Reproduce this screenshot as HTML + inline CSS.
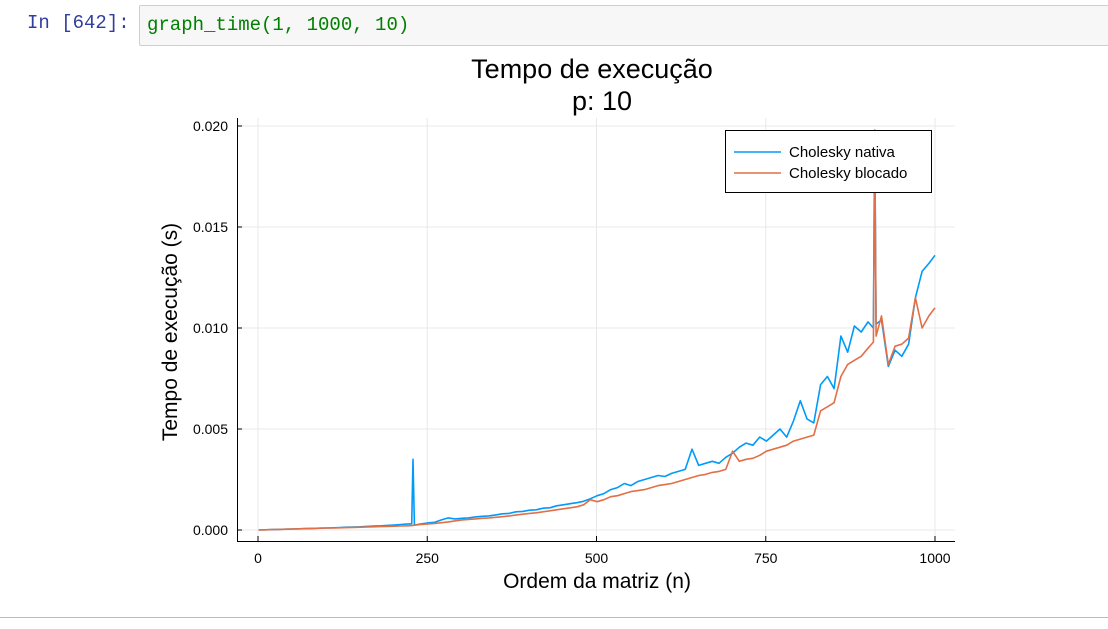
<!DOCTYPE html>
<html><head><meta charset="utf-8"><style>
body{margin:0;width:1108px;height:629px;background:#fff;overflow:hidden;position:relative;font-family:"Liberation Sans",sans-serif}
#prompt{position:absolute;left:27px;top:12px;font:19px "Liberation Mono",monospace;color:#303F9F}
#cell{position:absolute;left:139px;top:5px;width:975px;height:39px;background:#f7f7f7;border:1px solid #cfcfcf;border-radius:2px}
#code{position:absolute;left:7px;top:8px;font:19px "Liberation Mono",monospace;color:#008000}
#sep{position:absolute;left:0;top:617px;width:1108px;height:1px;background:#bbb}
</style></head><body>
<div id="prompt">In [642]:</div>
<div id="cell"><div id="code">graph_time(1, 1000, 10)</div></div>
<div id="sep"></div>
<svg id="chart" width="1108" height="629" style="position:absolute;left:0;top:0" font-family="Liberation Sans, sans-serif"></svg>
<script>
const nVals=[1,11,21,31,41,51,61,71,81,91,101,111,121,131,141,151,161,171,181,191,201,211,221,227,229,231,
241,251,261,271,281,291,301,311,321,331,341,351,361,371,381,391,401,411,421,431,441,451,461,471,481,491,501,511,521,531,541,551,561,571,581,591,601,611,621,631,641,651,661,671,681,691,701,711,721,731,741,751,761,771,781,791,801,811,821,831,841,851,861,871,881,891,901,
909,911,913,921,931,941,951,961,971,981,991,1000];
const nativa=[0,0.01,0.02,0.03,0.04,0.05,0.06,0.07,0.08,0.09,0.1,0.11,0.12,0.14,0.15,0.16,0.18,0.2,0.21,0.23,0.25,0.27,0.3,0.3,3.5,0.25,
0.3,0.35,0.38,0.5,0.6,0.55,0.58,0.6,0.65,0.68,0.7,0.75,0.8,0.82,0.9,0.92,0.98,1.0,1.08,1.1,1.2,1.25,1.3,1.35,1.42,1.55,1.7,1.8,2.0,2.1,2.3,2.2,2.4,2.5,2.6,2.7,2.65,2.8,2.9,3.0,4.0,3.2,3.3,3.4,3.3,3.6,3.8,4.1,4.3,4.2,4.6,4.4,4.7,5.0,4.6,5.4,6.4,5.5,5.3,7.2,7.6,7.0,9.6,8.8,10.1,9.8,10.3,
10.0,19.8,10.2,10.4,8.1,8.9,8.6,9.2,11.5,12.8,13.2,13.6];
const blocado=[0,0.01,0.02,0.03,0.04,0.05,0.06,0.07,0.08,0.09,0.1,0.1,0.11,0.12,0.13,0.14,0.15,0.16,0.17,0.18,0.19,0.2,0.21,0.22,0.23,0.24,
0.27,0.3,0.32,0.36,0.4,0.45,0.5,0.52,0.55,0.58,0.6,0.63,0.66,0.7,0.74,0.78,0.82,0.85,0.9,0.95,1.0,1.05,1.1,1.15,1.25,1.5,1.4,1.5,1.65,1.7,1.8,1.9,1.95,2.0,2.1,2.2,2.25,2.3,2.4,2.5,2.6,2.7,2.75,2.85,2.9,3.0,3.9,3.4,3.5,3.55,3.7,3.9,4.0,4.1,4.2,4.4,4.5,4.6,4.7,5.9,6.1,6.3,7.6,8.2,8.4,8.6,9.0,
9.3,19.8,9.6,10.6,8.2,9.1,9.2,9.5,11.5,10.0,10.6,11.0];
const xTicks=[0,250,500,750,1000];
const yTicks=[0,0.005,0.010,0.015,0.020];
const yTickLabels=["0.000","0.005","0.010","0.015","0.020"];
const seriesNames=["Cholesky nativa","Cholesky blocado"];
const colors=["#009AF9","#E26F46"];

const NS="http://www.w3.org/2000/svg";
const svg=document.getElementById('chart');
const X=n=>258+n*0.677;
const Y=v=>530-v*20200; // v in seconds
function mk(t,a,p){const e=document.createElementNS(NS,t);for(const k in a)e.setAttribute(k,a[k]);(p||svg).appendChild(e);return e;}
// grid
xTicks.forEach(t=>{const l=mk('line',{x1:X(t),x2:X(t),y1:118,y2:541,stroke:'#e8e8e8','stroke-width':1});

});
yTicks.forEach(t=>{const l=mk('line',{x1:237,x2:955,y1:Y(t),y2:Y(t),stroke:'#e8e8e8','stroke-width':1});

});
// axes
let ax=mk('path',{d:'M237.5,118V541.5H955',fill:'none',stroke:'#000','stroke-width':1});


xTicks.forEach(t=>{mk('line',{x1:X(t),x2:X(t),y1:541,y2:536,stroke:'#000'});
const tx=mk('text',{x:X(t),y:563,'text-anchor':'middle','font-size':14});tx.textContent=t;

});
yTicks.forEach((t,i)=>{mk('line',{x1:237,x2:242,y1:Y(t),y2:Y(t),stroke:'#000'});
const tx=mk('text',{x:228,y:Y(t)+5,'text-anchor':'end','font-size':14});tx.textContent=yTickLabels[i];

});
// series
[nativa,blocado].forEach((s,i)=>{
const d=s.map((v,j)=>(j?'L':'M')+X(nVals[j]).toFixed(1)+','+Y(v/1000).toFixed(1)).join('');
const p=mk('path',{d:d,fill:'none',stroke:colors[i],'stroke-width':1.6,'stroke-linejoin':'round'});

});
// titles
let t1=mk('text',{x:592,y:78,'text-anchor':'middle','font-size':27});t1.textContent='Tempo de execução';


let t2=mk('text',{x:602,y:110,'text-anchor':'middle','font-size':27});t2.textContent='p: 10';


let xt=mk('text',{x:597,y:588,'text-anchor':'middle','font-size':21});xt.textContent='Ordem da matriz (n)';


let yt=mk('text',{x:0,y:0,'text-anchor':'middle','font-size':21,transform:'translate(177,332) rotate(-90)'});yt.textContent='Tempo de execução (s)';


// legend
let lg=mk('g',{});


mk('rect',{x:725.5,y:130.5,width:206,height:62,fill:'#fff',stroke:'#000'},lg);
seriesNames.forEach((n,i)=>{const g=mk('g',{},lg);


mk('line',{x1:734,x2:781,y1:152+i*21,y2:152+i*21,stroke:colors[i],'stroke-width':1.6},g);
const tx=mk('text',{x:789,y:157+i*21,'font-size':15},g);tx.textContent=n;});
</script>
</body></html>
